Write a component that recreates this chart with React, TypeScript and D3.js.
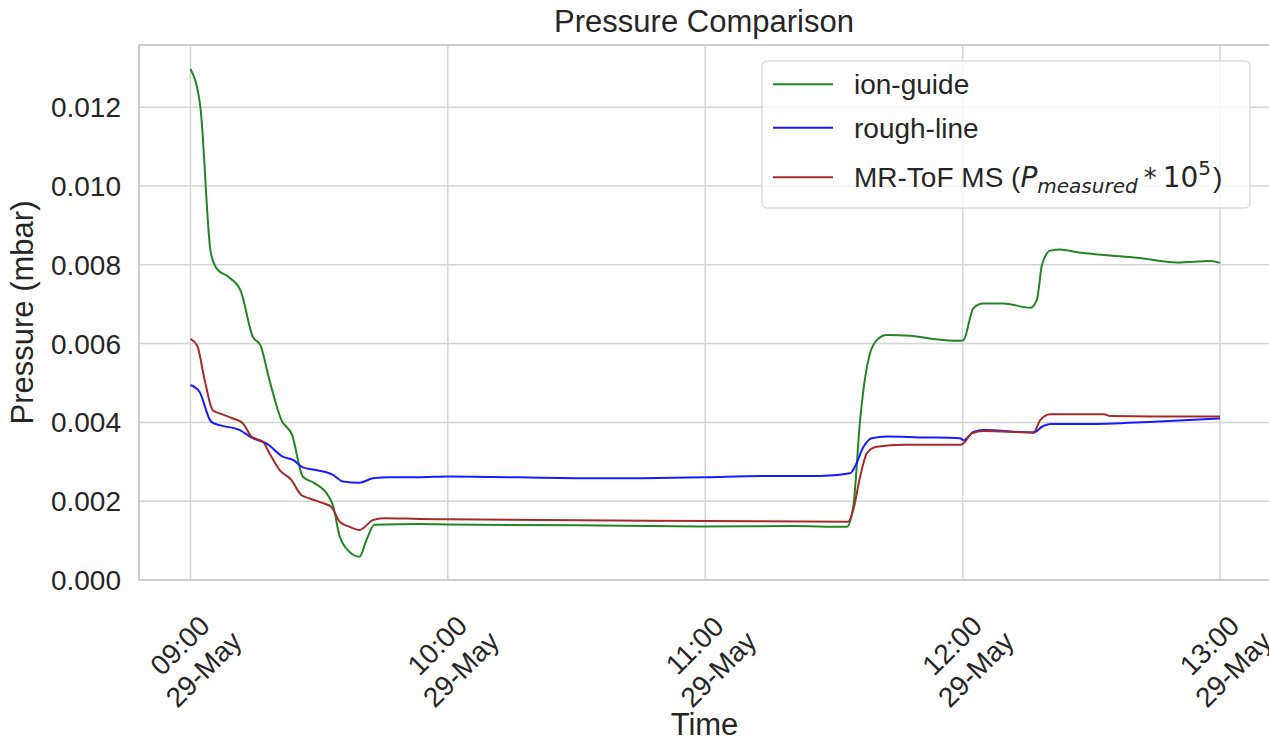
import React from "react";
import * as d3 from "d3";

const W = 1269;
const H = 742;

const baseDay = [2021, 4, 29];

const greenMinutes = [0, 2.3, 4.7, 6.2, 8.9, 11.7, 14.5, 16.3, 18.4, 21.2, 23.7, 26.2, 28.9, 32, 33.2, 34.8, 36.3, 39.4, 41, 42.9, 53.4, 60, 90, 120, 140, 153, 154.5, 156.1, 157.3, 158.4, 160, 162.3, 167.8, 172.4, 179.4, 180.2, 182.5, 184.8, 189.5, 195.8, 197.3, 198.5, 200.4, 202.8, 206.7, 212.9, 220.7, 230, 237.8, 240];
const greenValues = [0.01297, 0.01201, 0.00833, 0.00789, 0.00769, 0.00734, 0.00618, 0.00596, 0.00508, 0.00406, 0.00368, 0.00262, 0.00246, 0.00216, 0.0019, 0.0011, 0.0008, 0.00059, 0.00101, 0.0014, 0.00142, 0.00141, 0.00139, 0.00136, 0.00137, 0.00135, 0.00186, 0.00406, 0.00516, 0.00575, 0.00609, 0.00622, 0.0062, 0.00613, 0.00607, 0.00609, 0.0069, 0.00702, 0.00702, 0.00691, 0.00711, 0.008, 0.00836, 0.00839, 0.00832, 0.00825, 0.00818, 0.00806, 0.0081, 0.00805];

const blueMinutes = [0, 2.1, 4.8, 6.8, 11.4, 14.5, 17.7, 21.5, 23.9, 26.2, 29.3, 33.2, 35.5, 39.4, 42.5, 46.4, 53.4, 60, 93, 120, 133, 146.8, 153.8, 154.9, 156.9, 158.8, 162.3, 170, 179.4, 180.2, 182.5, 184.8, 196.5, 198.5, 200.4, 209, 224.5, 240];
const blueValues = [0.00495, 0.00478, 0.00402, 0.00393, 0.00381, 0.0036, 0.00347, 0.00313, 0.00305, 0.00286, 0.00279, 0.00267, 0.0025, 0.00247, 0.00258, 0.00261, 0.00261, 0.00263, 0.00258, 0.00261, 0.00264, 0.00264, 0.00271, 0.00288, 0.00338, 0.0036, 0.00364, 0.00362, 0.0036, 0.00355, 0.00376, 0.00381, 0.00374, 0.00389, 0.00396, 0.00396, 0.00402, 0.0041];

const redMinutes = [0, 1.6, 3.3, 5.2, 6.8, 9.9, 12.2, 14.2, 16.9, 18.4, 20.8, 23.5, 25.8, 27.8, 30.9, 32.8, 34.8, 37.1, 39.4, 42.5, 44.9, 53.4, 60, 120, 153.3, 154.5, 156.1, 157.7, 160, 166.2, 179.4, 180.2, 182.2, 184.8, 196.5, 198.1, 200.4, 212.9, 214.4, 224.5, 240];
const redValues = [0.00612, 0.00594, 0.00508, 0.00431, 0.00423, 0.0041, 0.00398, 0.00364, 0.00351, 0.00322, 0.00279, 0.00254, 0.00216, 0.00207, 0.00195, 0.00186, 0.00148, 0.00135, 0.00127, 0.00152, 0.00157, 0.00155, 0.00154, 0.0015, 0.00148, 0.00178, 0.00262, 0.00322, 0.00338, 0.00343, 0.00343, 0.00347, 0.00372, 0.00378, 0.00375, 0.00406, 0.00421, 0.00421, 0.00416, 0.00415, 0.00415];

const yTicks = [0, 0.002, 0.004, 0.006, 0.008, 0.01, 0.012];
const xTickHours = [9, 10, 11, 12, 13];
const xTickDate = "29-May";

const seriesNames = ["ion-guide", "rough-line", "MR-ToF MS"];
const seriesColors = ["#238523", "#1a1aff", "#a52a2a"];

const toDate = (m: number) => new Date(baseDay[0], baseDay[1], baseDay[2], 9, 0, 0, m * 60000);

const left = 139;
const right = 1271.5;
const top = 45;
const bottom = 580;

export default function App() {
  const x = d3.scaleTime().domain([toDate(-12), toDate(252)]).range([left, right]);
  const y = d3.scaleLinear().domain([0, 0.01358]).range([bottom, top]);
  const line = d3
    .line<[number, number]>()
    .x((d) => x(toDate(d[0])))
    .y((d) => y(d[1]))
    .curve(d3.curveMonotoneX);

  const series = [
    { mins: greenMinutes, vals: greenValues },
    { mins: blueMinutes, vals: blueValues },
    { mins: redMinutes, vals: redValues },
  ];

  const textColor = "#262626";
  const font = "'Liberation Sans', Arial, sans-serif";
  const tickFs = 28;
  const labelFs = 31;
  const gridColor = "#d4d4d4";
  const fmt = d3.format(".3f");
  const L = tickFs * 1.2;

  const legendX = 762;
  const legendY = 61;
  const legendRows = [84.3, 127.7, 177.3];

  return (
    <svg width={W} height={H} style={{ position: "absolute", left: 0, top: 0 }} fontFamily={font}>
      <rect x={0} y={0} width={W} height={H} fill="#fff" />
      <defs>
        <clipPath id="plotclip">
          <rect x={left} y={top} width={right - left} height={bottom - top} />
        </clipPath>
      </defs>
      {yTicks.map((t) => (
        <line key={"gy" + t} x1={left} x2={right} y1={y(t)} y2={y(t)} stroke={gridColor} strokeWidth={1.5} />
      ))}
      {xTickHours.map((h) => {
        const xx = x(toDate((h - 9) * 60));
        return <line key={"gx" + h} x1={xx} x2={xx} y1={top} y2={bottom} stroke={gridColor} strokeWidth={1.5} />;
      })}
      <rect x={left} y={top} width={right - left} height={bottom - top} fill="none" stroke="#cccccc" strokeWidth={2} />
      <g clipPath="url(#plotclip)">
        {series.map((s, i) => (
          <path
            key={i}
            d={line(s.mins.map((m, j) => [m, s.vals[j]] as [number, number])) || ""}
            fill="none"
            stroke={seriesColors[i]}
            strokeWidth={2}
            strokeLinejoin="round"
          />
        ))}
      </g>
      {yTicks.map((t) => (
        <text key={"ty" + t} x={121} y={y(t) + 10} textAnchor="end" fontSize={tickFs} fill={textColor}>
          {fmt(t)}
        </text>
      ))}
      {xTickHours.map((h) => {
        const xx = x(toDate((h - 9) * 60)) + 1;
        const cy = 657;
        const label = d3.timeFormat("%H:%M")(toDate((h - 9) * 60));
        return (
          <g key={"tx" + h} transform={`translate(${xx},${cy}) rotate(-45)`}>
            <text textAnchor="middle" fontSize={tickFs} fill={textColor}>
              <tspan x={0} y={-L / 2 + tickFs * 0.36}>{label}</tspan>
              <tspan x={0} y={L / 2 + tickFs * 0.36}>{xTickDate}</tspan>
            </text>
          </g>
        );
      })}
      <text x={704.5} y={735} textAnchor="middle" fontSize={labelFs} fill={textColor}>
        Time
      </text>
      <text transform={`translate(33,${(top + bottom) / 2}) rotate(-90)`} textAnchor="middle" fontSize={labelFs} fill={textColor}>
        Pressure (mbar)
      </text>
      <text x={704} y={32} textAnchor="middle" fontSize={labelFs} fill={textColor}>
        Pressure Comparison
      </text>
      <rect x={legendX} y={legendY} width={1250 - legendX} height={208 - legendY} rx={5} fill="#ffffff" fillOpacity={0.8} stroke="#dddddd" strokeWidth={1.5} />
      {legendRows.map((ry, i) => (
        <g key={"lg" + i}>
          <line x1={773} x2={833} y1={ry} y2={ry} stroke={seriesColors[i]} strokeWidth={2} />
          {i < 2 ? (
            <text x={854} y={ry + 10} fontSize={tickFs} fill={textColor}>
              {seriesNames[i]}
            </text>
          ) : (
            <text x={854} y={ry + 10} fontSize={tickFs} fill={textColor}>
              <tspan>{seriesNames[i] + " ("}</tspan>
              <tspan fontFamily="'DejaVu Sans'" fontStyle="italic">P</tspan>
              <tspan fontFamily="'DejaVu Sans'" fontStyle="italic" fontSize={20} dy={6}>measured</tspan>
              <tspan fontFamily="'DejaVu Sans'" fontSize={26} dy={-6} dx={6}>*</tspan>
              <tspan fontFamily="'DejaVu Sans'" dx={6}>10</tspan>
              <tspan fontFamily="'DejaVu Sans'" fontSize={20} dy={-12}>5</tspan>
              <tspan dy={12} dx={2}>)</tspan>
            </text>
          )}
        </g>
      ))}
    </svg>
  );
}
